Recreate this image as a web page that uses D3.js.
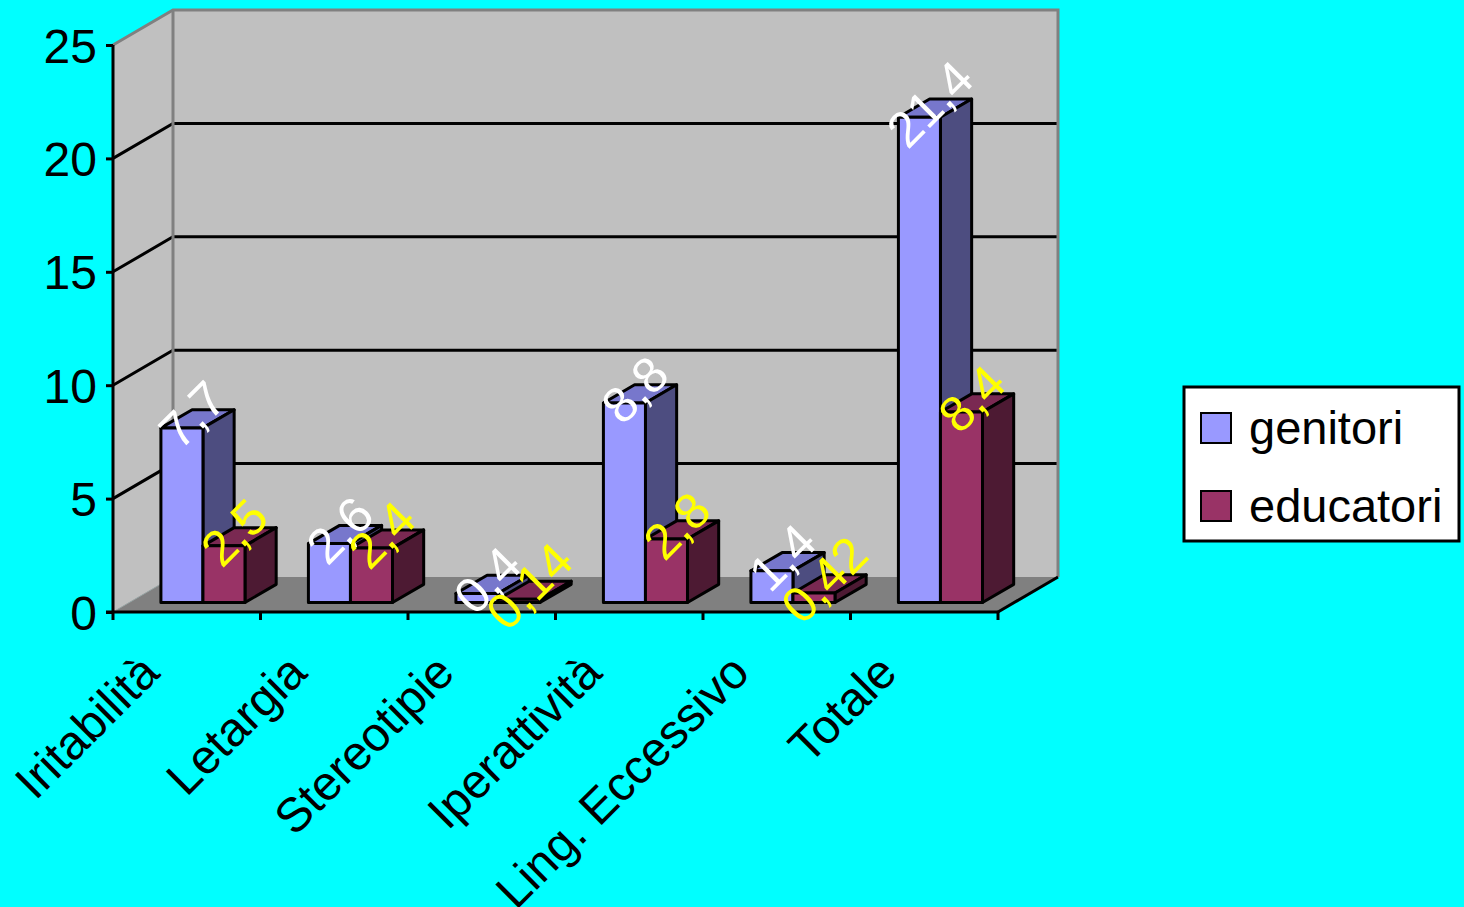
<!DOCTYPE html>
<html>
<head>
<meta charset="utf-8">
<script src="https://cdn.jsdelivr.net/npm/d3@7"></script>
<style>
  html, body { margin: 0; padding: 0; background: #00FFFF; }
  svg { display: block; }
  text { font-family: Arial, "Liberation Sans", sans-serif; }
</style>
</head>
<body>
<svg id="chart" width="1464" height="907"></svg>
<script>
// Categories and series
const categories = ["Iritabilità", "Letargia", "Stereotipie", "Iperattività", "Ling. Eccessivo", "Totale"];
const genitori   = [7.7, 2.6, 0.4, 8.8, 1.4, 21.4];
const educatori  = [2.5, 2.4, 0.14, 2.8, 0.42, 8.4];
const seriesNames = ["genitori", "educatori"];
const yTicks = [0, 5, 10, 15, 20, 25];

const colors = {
  genitori:  { front: "#9999FF", top: "#7777CC", side: "#4D4D80", label: "#FFFFFF" },
  educatori: { front: "#993366", top: "#7A2952", side: "#4D1A33", label: "#FFFF00" }
};

const svg = d3.select("#chart");

// Front plane of the plot and the oblique depth vector
const plotLeft = 113, plotRight = 998, plotBottom = 612, plotTop = 45;
const depthX = 60, depthY = -35;

const x = d3.scaleBand().domain(categories).range([plotLeft, plotRight]);
const y = d3.scaleLinear().domain([0, 25]).range([plotBottom, plotTop]);

// project a point at screen-x px, value v, depth fraction f (0 front, 1 back)
const P = (px, v, f) => [px + depthX * f, y(v) + depthY * f];
const pts = arr => arr.map(p => p.join(",")).join(" ");

const walls = svg.append("g");
// side wall
walls.append("polygon")
  .attr("points", pts([P(plotLeft, 25, 0), P(plotLeft, 25, 1), P(plotLeft, 0, 1), P(plotLeft, 0, 0)]))
  .attr("fill", "#C0C0C0");
// back wall
walls.append("polygon")
  .attr("points", pts([P(plotLeft, 25, 1), P(plotRight, 25, 1), P(plotRight, 0, 1), P(plotLeft, 0, 1)]))
  .attr("fill", "#C0C0C0");
// floor
walls.append("polygon")
  .attr("points", pts([P(plotLeft, 0, 0), P(plotRight, 0, 0), P(plotRight, 0, 1), P(plotLeft, 0, 1)]))
  .attr("fill", "#808080");

// gridlines on side and back walls
yTicks.filter(t => t > 0 && t < 25).forEach(t => {
  walls.append("polyline")
    .attr("points", pts([P(plotLeft, t, 0), P(plotLeft, t, 1), P(plotRight, t, 1)]))
    .attr("fill", "none").attr("stroke", "#000").attr("stroke-width", 3);
});

// wall borders
walls.append("polyline")
  .attr("points", pts([P(plotLeft, 25, 0), P(plotLeft, 25, 1), P(plotRight, 25, 1), P(plotRight, 0, 1)]))
  .attr("fill", "none").attr("stroke", "#808080").attr("stroke-width", 3);
walls.append("line")
  .attr("x1", P(plotLeft, 25, 1)[0]).attr("y1", P(plotLeft, 25, 1)[1])
  .attr("x2", P(plotLeft, 0, 1)[0]).attr("y2", P(plotLeft, 0, 1)[1])
  .attr("stroke", "#808080").attr("stroke-width", 3);
walls.append("line")
  .attr("x1", P(plotLeft, 0, 0)[0]).attr("y1", P(plotLeft, 0, 0)[1])
  .attr("x2", P(plotLeft, 0, 1)[0]).attr("y2", P(plotLeft, 0, 1)[1])
  .attr("stroke", "#A0A0A0").attr("stroke-width", 1);
// floor right edge
walls.append("line")
  .attr("x1", P(plotRight, 0, 0)[0]).attr("y1", P(plotRight, 0, 0)[1])
  .attr("x2", P(plotRight, 0, 1)[0]).attr("y2", P(plotRight, 0, 1)[1])
  .attr("stroke", "#000").attr("stroke-width", 3);

// Bars
const f0 = 0.27, f1 = 0.79;           // bar depth span
const groupFrac = 0.57;               // share of band taken by the two bars
const barW = x.bandwidth() * groupFrac / 2;
const groupOffset = (x.bandwidth() - 2 * barW) / 2;

const bars = svg.append("g");
const labels = [];
categories.forEach((c, i) => {
  [genitori, educatori].forEach((vals, s) => {
    const name = seriesNames[s];
    const v = vals[i];
    const x0 = x(c) + groupOffset + s * barW;
    const x1 = x0 + barW;
    const g = bars.append("g")
      .attr("stroke", "#000").attr("stroke-width", 3).attr("stroke-linejoin", "round");
    // top face
    g.append("polygon")
      .attr("points", pts([P(x0, v, f0), P(x1, v, f0), P(x1, v, f1), P(x0, v, f1)]))
      .attr("fill", colors[name].top);
    // right side face
    g.append("polygon")
      .attr("points", pts([P(x1, 0, f0), P(x1, v, f0), P(x1, v, f1), P(x1, 0, f1)]))
      .attr("fill", colors[name].side);
    // front face
    g.append("polygon")
      .attr("points", pts([P(x0, 0, f0), P(x1, 0, f0), P(x1, v, f0), P(x0, v, f0)]))
      .attr("fill", colors[name].front);
    const c0 = P((x0 + x1) / 2, v, (f0 + f1) / 2);
    labels.push({ x: c0[0] - 5, y: c0[1] - 4, text: String(v).replace(".", ","), fill: colors[name].label });
  });
});

// Axes
const yAxis = svg.append("g")
  .attr("transform", `translate(${plotLeft},0)`)
  .call(d3.axisLeft(y).tickValues(yTicks).tickSize(7).tickPadding(9).tickFormat(d3.format("d")));
yAxis.select(".domain").attr("stroke", "#000").attr("stroke-width", 3)
  .attr("d", `M0,${y(25)}V${y(0)}`);
yAxis.selectAll(".tick line").attr("stroke", "#000").attr("stroke-width", 3);
yAxis.selectAll(".tick text")
  .attr("font-size", 48).attr("fill", "#000")
  .attr("font-family", "Arial, 'Liberation Sans', sans-serif")
  .attr("dy", null).attr("y", 17);

// x axis line and ticks at category boundaries
const xAxis = svg.append("g");
xAxis.append("line")
  .attr("x1", plotLeft - 7).attr("x2", plotRight).attr("y1", plotBottom).attr("y2", plotBottom)
  .attr("stroke", "#000").attr("stroke-width", 3);
const bounds = d3.range(categories.length + 1).map(i => x(categories[0]) + i * x.step());
xAxis.selectAll("line.tick").data(bounds).join("line")
  .attr("class", "tick")
  .attr("x1", d => d).attr("x2", d => d)
  .attr("y1", plotBottom).attr("y2", plotBottom + 8)
  .attr("stroke", "#000").attr("stroke-width", 3);
xAxis.selectAll("text.cat").data(categories).join("text")
  .attr("class", "cat")
  .attr("text-anchor", "end")
  .attr("font-size", 48)
  .attr("fill", "#000")
  .attr("transform", d => `translate(${x(d) + x.bandwidth() / 2 - 25},675) rotate(-45)`)
  .text(d => d);

// Data labels
svg.append("g").selectAll("text").data(labels).join("text")
  .attr("text-anchor", "middle")
  .attr("dominant-baseline", "central")
  .attr("font-size", 50)
  .attr("fill", d => d.fill)
  .attr("transform", d => `translate(${d.x},${d.y}) rotate(-45)`)
  .text(d => d.text);

// Legend
const legend = svg.append("g").attr("transform", "translate(1184,387)");
legend.append("rect").attr("width", 275).attr("height", 154)
  .attr("fill", "#FFFFFF").attr("stroke", "#000").attr("stroke-width", 3);
seriesNames.forEach((n, i) => {
  const row = legend.append("g").attr("transform", `translate(0,${i * 78})`);
  row.append("rect").attr("x", 17).attr("y", 26).attr("width", 30).attr("height", 30)
    .attr("fill", colors[n].front).attr("stroke", "#000").attr("stroke-width", 2);
  row.append("text").attr("x", 65).attr("y", 57).attr("font-size", 47).attr("fill", "#000").text(n);
});
</script>
</body>
</html>
